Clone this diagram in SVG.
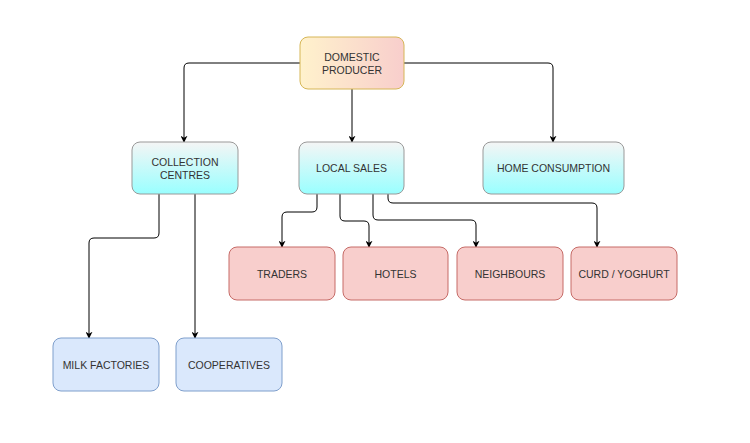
<svg xmlns="http://www.w3.org/2000/svg" width="750" height="443" viewBox="0 0 750 443">
<defs>
<linearGradient id="gProd" x1="0" y1="0" x2="1" y2="0"><stop offset="0" stop-color="#fff2cc"/><stop offset="1" stop-color="#f8cecc"/></linearGradient>
<linearGradient id="gCyan" x1="0" y1="0" x2="0" y2="1"><stop offset="0" stop-color="#f5f5f5"/><stop offset="1" stop-color="#99ffff"/></linearGradient>
<marker id="arr" viewBox="0 0 10 10" refX="9" refY="5" markerWidth="7" markerHeight="7" orient="auto" markerUnits="userSpaceOnUse"><path d="M0,0 L10,5 L0,10 L3,5 Z" fill="#000"/></marker>
<style>
.lbl{font-family:"Liberation Sans",Arial,sans-serif;font-size:10.5px;fill:#333;text-anchor:middle;dominant-baseline:central}
.prod{fill:url(#gProd);stroke:#d6b656}
.cyan{fill:url(#gCyan);stroke:#999}
.red{fill:#f8cecc;stroke:#c66b67}
.blue{fill:#dae8fc;stroke:#7f9fcc}
.c{fill:none;stroke:#000;stroke-width:1;marker-end:url(#arr)}
</style>
</defs>
<rect width="750" height="443" fill="#fff"/>
<g id="connectors">
<path class="c" d="M300,63 H189 Q184,63 184,68 V142"/>
<path class="c" d="M352,89 V142"/>
<path class="c" d="M404,63 H548 Q553,63 553,68 V142"/>
<path class="c" d="M159,194 V233 Q159,238 154,238 H94 Q89,238 89,243 V338"/>
<path class="c" d="M195,194 V338"/>
<path class="c" d="M317,194 V207 Q317,212 312,212 H287 Q282,212 282,217 V247"/>
<path class="c" d="M340,194 V216 Q340,221 345,221 H364 Q369,221 369,226 V247"/>
<path class="c" d="M373,194 V215 Q373,220 378,220 H471 Q476,220 476,225 V247"/>
<path class="c" d="M388,194 V198 Q388,203 393,203 H592 Q597,203 597,208 V247"/>
</g>
<g id="producer"><rect class="prod" x="300" y="37" width="104" height="52" rx="8"/><text class="lbl" x="352" y="57">DOMESTIC</text><text class="lbl" x="352" y="70">PRODUCER</text></g>
<g id="collection"><rect class="cyan" x="132" y="142" width="106" height="52" rx="8"/><text class="lbl" x="185" y="162">COLLECTION</text><text class="lbl" x="185" y="175">CENTRES</text></g>
<g id="localsales"><rect class="cyan" x="299" y="142" width="105" height="52" rx="8"/><text class="lbl" x="351.5" y="168">LOCAL SALES</text></g>
<g id="home"><rect class="cyan" x="483" y="142" width="141" height="52" rx="8"/><text class="lbl" x="553.5" y="168">HOME CONSUMPTION</text></g>
<g id="traders"><rect class="red" x="229" y="247" width="106" height="53" rx="8"/><text class="lbl" x="282" y="273.5">TRADERS</text></g>
<g id="hotels"><rect class="red" x="343" y="247" width="105" height="53" rx="8"/><text class="lbl" x="395.5" y="273.5">HOTELS</text></g>
<g id="neighbours"><rect class="red" x="457" y="247" width="106" height="53" rx="8"/><text class="lbl" x="510" y="273.5">NEIGHBOURS</text></g>
<g id="curd"><rect class="red" x="571" y="247" width="106" height="53" rx="8"/><text class="lbl" x="624" y="273.5">CURD / YOGHURT</text></g>
<g id="milk"><rect class="blue" x="53" y="338" width="106" height="53" rx="8"/><text class="lbl" x="106" y="364.5">MILK FACTORIES</text></g>
<g id="coop"><rect class="blue" x="176" y="338" width="106" height="53" rx="8"/><text class="lbl" x="229" y="364.5">COOPERATIVES</text></g>
</svg>
